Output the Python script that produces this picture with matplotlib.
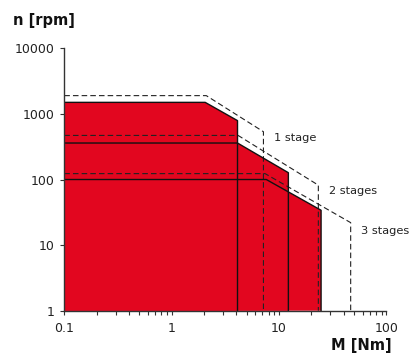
import numpy as np
import matplotlib.pyplot as plt
from matplotlib.ticker import FixedLocator, FixedFormatter, LogLocator, NullFormatter

# operating ranges: torque M [Nm], speed n [rpm]
# continuous (solid, filled) limits per gear stage
M_cont_1 = [0.1, 2.05, 4.1, 4.1]
n_cont_1 = [1500, 1500, 790, 1]
M_cont_2 = [0.1, 4.1, 12.2, 12.2]
n_cont_2 = [360, 360, 127, 1]
M_cont_3 = [0.1, 7.6, 24.6, 24.6]
n_cont_3 = [100, 100, 34, 1]

# intermittent (dashed) limits per gear stage
M_peak_1 = [0.1, 2.1, 7.15, 7.15]
n_peak_1 = [1900, 1900, 535, 1]
M_peak_2 = [0.1, 4.15, 23.2, 23.2]
n_peak_2 = [470, 470, 82, 1]
M_peak_3 = [0.1, 7.4, 46.4, 46.4]
n_peak_3 = [123, 123, 22, 1]

stage_labels = ['1 stage', '2 stages', '3 stages']
label_pos = [(9.0, 386), (29.3, 60), (58.0, 14.9)]

x_ticks = [0.1, 1, 10, 100]
x_ticklabels = ['0.1', '1', '10', '100']
y_ticks = [1, 10, 100, 1000, 10000]
y_ticklabels = ['1', '10', '100', '1000', '10000']

RED = '#e2061f'
DARK = '#333333'

fig = plt.figure(figsize=(4.13, 3.56), dpi=100)
ax = fig.add_axes([0.1557, 0.1272, 0.7801, 0.7371])

conts = [(M_cont_1, n_cont_1), (M_cont_2, n_cont_2), (M_cont_3, n_cont_3)]
peaks = [(M_peak_1, n_peak_1), (M_peak_2, n_peak_2), (M_peak_3, n_peak_3)]

for M, n in conts:
    ax.fill([0.1] + M, [1] + n, color=RED, lw=0, zorder=1)
for M, n in peaks:
    ax.plot(M, n, color='#222222', lw=0.8, dashes=(5, 2.8), zorder=2)
for M, n in conts:
    ax.plot(M, n, color='#111111', lw=1.0, zorder=3)

for txt, (x, y) in zip(stage_labels, label_pos):
    ax.text(x, y, txt, fontsize=8.2, color='#222222', va='baseline', ha='left',
            clip_on=False)

ax.set_xscale('log')
ax.set_yscale('log')
ax.set_xlim(0.1, 100)
ax.set_ylim(1, 10000)

ax.xaxis.set_major_locator(FixedLocator(x_ticks))
ax.xaxis.set_major_formatter(FixedFormatter(x_ticklabels))
ax.xaxis.set_minor_locator(LogLocator(base=10, subs=np.arange(2, 10)))
ax.xaxis.set_minor_formatter(NullFormatter())
ax.yaxis.set_major_locator(FixedLocator(y_ticks))
ax.yaxis.set_major_formatter(FixedFormatter(y_ticklabels))
ax.yaxis.set_minor_locator(FixedLocator([]))

for s in ['top', 'right']:
    ax.spines[s].set_visible(False)
for s in ['left', 'bottom']:
    ax.spines[s].set_color(DARK)
    ax.spines[s].set_linewidth(1.0)
    ax.spines[s].set_zorder(4)

ax.tick_params(axis='both', which='major', direction='out', length=3.2,
               width=0.8, color=DARK, labelsize=9, labelcolor='#222222')
ax.tick_params(axis='x', which='minor', direction='out', length=2.8,
               width=0.8, color=DARK)
ax.tick_params(axis='x', which='major', pad=5)
ax.tick_params(axis='y', which='major', pad=4)

fig.text(13 / 413, 1 - 25 / 356, 'n [rpm]', fontsize=10.5, fontweight='bold',
         color='#111111', ha='left', va='baseline')
fig.text(392 / 413, 1 - 350 / 356, 'M [Nm]', fontsize=10.5, fontweight='bold',
         color='#111111', ha='right', va='baseline')

fig.savefig('out.png', dpi=100)
